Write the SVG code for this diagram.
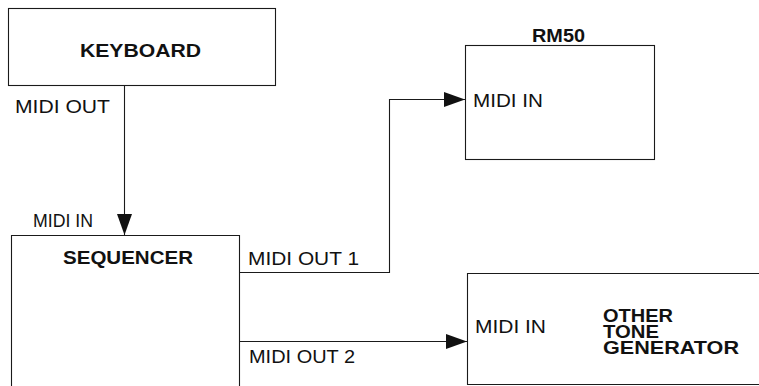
<svg xmlns="http://www.w3.org/2000/svg" width="759" height="386" viewBox="0 0 759 386">
<style>
.box{fill:none;stroke:#1a1a1a;stroke-width:1.1}
.con{fill:none;stroke:#1a1a1a;stroke-width:1.1}
.lbl{font-family:"Liberation Sans",Arial,sans-serif;font-size:19px;fill:#111}
.ttl{font-family:"Liberation Sans",Arial,sans-serif;font-size:19px;font-weight:bold;fill:#111}
.ttl2{font-family:"Liberation Sans",Arial,sans-serif;font-size:17.5px;font-weight:bold;fill:#111}
</style>
<defs>
<marker id="arr" markerUnits="userSpaceOnUse" markerWidth="22" markerHeight="15" refX="21" refY="7.5" orient="auto">
<path d="M0,0 L21,7.5 L0,15 z" fill="#111"/>
</marker>
</defs>
<rect width="759" height="386" fill="#fff"/>
<g id="keyboard">
<rect class="box" x="8.5" y="8.5" width="267" height="77"/>
<text class="ttl" x="80" y="57" textLength="121" lengthAdjust="spacingAndGlyphs">KEYBOARD</text>
<text class="lbl" x="15" y="113" textLength="95" lengthAdjust="spacingAndGlyphs">MIDI OUT</text>
</g>
<g id="sequencer">
<path class="box" d="M11.5,386 V235.5 H239.5 V386"/>
<text class="ttl" x="63" y="264" textLength="130" lengthAdjust="spacingAndGlyphs">SEQUENCER</text>
<text class="lbl" x="33" y="227" textLength="60" lengthAdjust="spacingAndGlyphs">MIDI IN</text>
<text class="lbl" x="248" y="265" textLength="111" lengthAdjust="spacingAndGlyphs">MIDI OUT 1</text>
<text class="lbl" x="249" y="363" textLength="106" lengthAdjust="spacingAndGlyphs">MIDI OUT 2</text>
</g>
<g id="rm50">
<rect class="box" x="465.5" y="45.5" width="189" height="114"/>
<text class="ttl" x="532" y="42" textLength="53" lengthAdjust="spacingAndGlyphs">RM50</text>
<text class="lbl" x="473" y="107" textLength="70" lengthAdjust="spacingAndGlyphs">MIDI IN</text>
</g>
<g id="other-tone-generator">
<path class="box" d="M762,273.5 H467.5 V384.5 H762"/>
<text class="lbl" x="475" y="333" textLength="71" lengthAdjust="spacingAndGlyphs">MIDI IN</text>
<text class="ttl2" x="603" y="322" textLength="70" lengthAdjust="spacingAndGlyphs">OTHER</text>
<text class="ttl2" x="603" y="338" textLength="56" lengthAdjust="spacingAndGlyphs">TONE</text>
<text class="ttl2" x="603" y="354" textLength="136" lengthAdjust="spacingAndGlyphs">GENERATOR</text>
</g>
<g id="connectors">
<path class="con" d="M124.5,86 V235" marker-end="url(#arr)"/>
<path class="con" d="M239.5,272.5 H389.5 V99.5 H465" marker-end="url(#arr)"/>
<path class="con" d="M239.5,341.5 H467" marker-end="url(#arr)"/>
</g>
</svg>
